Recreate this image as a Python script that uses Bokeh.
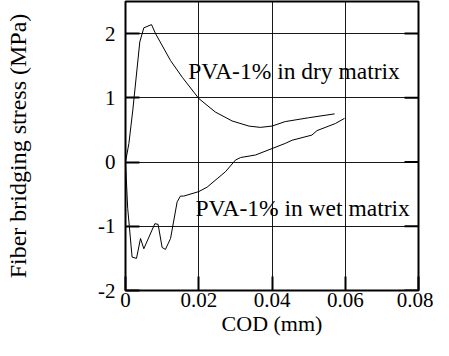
from bokeh.plotting import figure
from bokeh.models import Range1d, FixedTicker, Label
from bokeh.embed import file_html
from bokeh.resources import INLINE

# Data
dry_cod = [0.0, 0.00093, 0.002, 0.0039, 0.005, 0.0071, 0.0082, 0.0123, 0.0155, 0.02,
           0.0245, 0.0291, 0.0337, 0.0368, 0.04, 0.0436, 0.05, 0.0571]
dry_stress = [0.0, 0.29, 0.81, 1.87, 2.09, 2.14, 2.0, 1.58, 1.32, 0.99,
              0.78, 0.64, 0.56, 0.54, 0.56, 0.63, 0.69, 0.75]

wet_cod = [0.0, 0.0006, 0.0018, 0.003, 0.0041, 0.005, 0.008, 0.0089, 0.01, 0.0109,
           0.0123, 0.0141, 0.015, 0.0159, 0.02, 0.0223, 0.025, 0.0273, 0.03, 0.0314,
           0.0355, 0.04, 0.0436, 0.0455, 0.0509, 0.0523, 0.0573, 0.0598]
wet_stress = [0.0, -0.72, -1.48, -1.50, -1.19, -1.35, -0.96, -0.97, -1.33, -1.36,
              -1.19, -0.62, -0.53, -0.53, -0.46, -0.39, -0.26, -0.15, 0.03, 0.07,
              0.11, 0.21, 0.29, 0.34, 0.42, 0.49, 0.60, 0.68]

x_ticks = [0, 0.02, 0.04, 0.06, 0.08]
x_tick_labels = {0: "0", 0.02: "0.02", 0.04: "0.04", 0.06: "0.06", 0.08: "0.08"}
y_ticks = [-2, -1, 0, 1, 2]
y_tick_labels = {-2: "-2", -1: "-1", 0: "0", 1: "1", 2: "2"}

x_title = "COD (mm)"
y_title = "Fiber bridging stress (MPa)"
dry_label = "PVA-1% in dry matrix"
wet_label = "PVA-1% in wet matrix"
dry_label_pos = (0.0171, 1.42)
wet_label_pos = (0.0191, -0.71)

FONT = "Liberation Serif"
TICK_FS = "21px"
LABEL_FS = "22px"
YLABEL_FS = "24px"
NOTE_FS = "23.5px"

p = figure(width=433, height=340, output_backend="svg", toolbar_location=None,
           x_range=Range1d(0, 0.08), y_range=Range1d(-2, 2.5),
           min_border_left=125, min_border_right=15, min_border_top=1,
           min_border_bottom=50)
p.background_fill_color = "white"
p.border_fill_color = "white"
p.outline_line_color = "black"
p.outline_line_width = 2

for ax in (p.xaxis[0], p.yaxis[0]):
    ax.major_label_text_font = FONT
    ax.major_label_text_font_size = TICK_FS
    ax.major_label_text_color = "black"
    ax.axis_label_text_font = FONT
    ax.axis_label_text_font_size = LABEL_FS
    ax.axis_label_text_font_style = "normal"
    ax.axis_label_text_color = "black"
    ax.major_tick_in = 14
    ax.major_tick_out = 0
    ax.major_tick_line_width = 2
    ax.minor_tick_line_color = None
    ax.axis_line_color = None

p.xaxis[0].ticker = FixedTicker(ticks=x_ticks)
p.xaxis[0].major_label_overrides = x_tick_labels
p.xaxis[0].axis_label = x_title
p.xaxis[0].major_label_standoff = 2
p.xaxis[0].axis_label_standoff = 1

p.yaxis[0].ticker = FixedTicker(ticks=y_ticks)
p.yaxis[0].major_label_overrides = y_tick_labels
p.yaxis[0].major_label_standoff = 10
p.yaxis[0].axis_label = y_title
p.yaxis[0].axis_label_text_font_size = YLABEL_FS
p.yaxis[0].axis_label_standoff = 64

p.xgrid.ticker = FixedTicker(ticks=x_ticks)
p.ygrid.ticker = FixedTicker(ticks=y_ticks)
p.grid.grid_line_color = "black"
p.grid.grid_line_width = 1
p.grid.grid_line_alpha = 0.9

# inner tick marks on the right frame edge (half of each dash is clipped by the frame)
p.scatter([x_ticks[-1]] * len(y_ticks), y_ticks, marker="dash", size=28,
          line_color="black", line_width=2)

p.line(dry_cod, dry_stress, line_color="black", line_width=1)
p.line(wet_cod, wet_stress, line_color="black", line_width=1)

for txt, (lx, ly) in ((dry_label, dry_label_pos), (wet_label, wet_label_pos)):
    p.add_layout(Label(x=lx, y=ly, text=txt, text_font=FONT, text_font_size=NOTE_FS,
                       text_color="black", text_baseline="middle", text_align="left",
                       background_fill_color=None))

open("out.html", "w").write(file_html(p, INLINE))
